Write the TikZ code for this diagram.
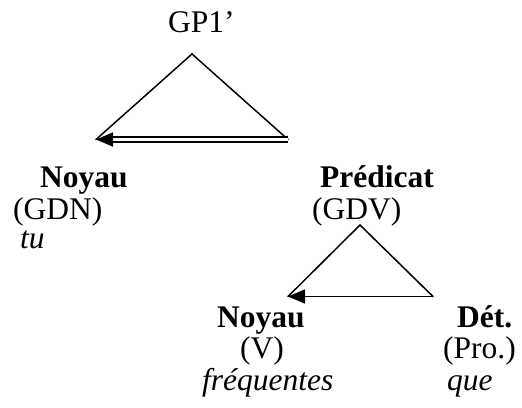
\documentclass[tikz,border=0pt]{standalone}
\usepackage{fontspec}
\setmainfont{Liberation Serif}
\usetikzlibrary{arrows.meta,calc}
\begin{document}
\begin{tikzpicture}[x=1pt,y=-1pt,
  lbl/.style={inner sep=0pt, anchor=base west, font=\fontsize{31.5}{30}\selectfont},
  head/.style={lbl, font=\fontsize{31.5}{30}\selectfont\bfseries},
  word/.style={lbl, font=\fontsize{31.5}{30}\selectfont\itshape},
  side/.style={line width=1.5pt, line cap=round},
  tip/.style={line width=1.6pt, -{Triangle[length=17pt,width=14pt]}},
  twin/.style={double, double distance=2.8pt, line width=1.8pt}]
\useasboundingbox (0,0) rectangle (522,407);

% labels
\node[lbl]  (gp)   at (168,32)  {GP1’};
\node[head] (noy1) at (40,187)  {Noyau};
\node[lbl]  (gdn)  at (13,219)  {(GDN)};
\node[word] (tu)   at (20,248)  {tu};
\node[head] (pred) at (320,187) {Prédicat};
\node[lbl]  (gdv)  at (312,219) {(GDV)};
\node[head] (noy2) at (217,327) {Noyau};
\node[lbl]  (v)    at (240,358) {(V)};
\node[word] (freq) at (202,390) {fréquentes};
\node[head] (det)  at (457,327) {Dét.};
\node[lbl]  (pro)  at (443,358) {(Pro.)};
\node[word] (que)  at (447,390) {que};

% upper triangle
\coordinate (tA) at (192,54);
\coordinate (tL) at (96,139.5);
\coordinate (tR) at (288,139.5);
\coordinate (tM) at (110,139.5);
\draw[side] (tL) -- (tA) -- (tR);
\draw[twin] (tR) -- (tM);
\draw[tip] (tM) -- (tL);

% lower triangle
\coordinate (bA) at (360,225);
\coordinate (bL) at (288,296.5);
\coordinate (bR) at (433,296.5);
\draw[side] (bL) -- (bA) -- (bR);
\draw[tip] (bR) -- (bL);
\end{tikzpicture}
\end{document}
